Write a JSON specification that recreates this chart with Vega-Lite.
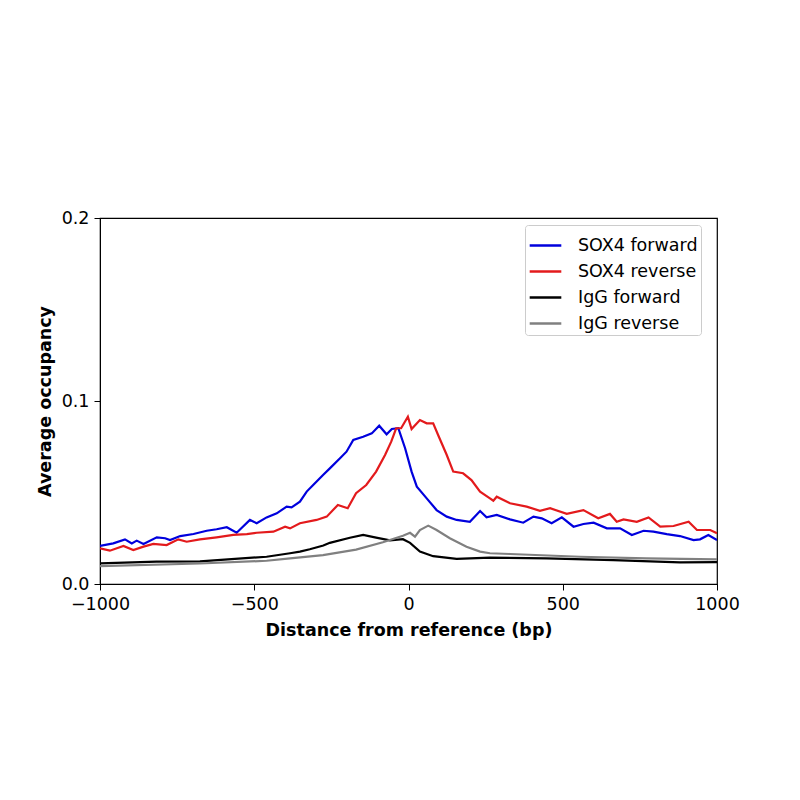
{
  "$schema": "https://vega.github.io/schema/vega-lite/v6.json",
  "description": "Average occupancy around reference, SOX4 vs IgG",
  "width": 617,
  "height": 366,
  "autosize": {"type": "none"},
  "padding": {"left": 100, "top": 218, "right": 83, "bottom": 216},
  "background": "white",
  "config": {
    "font": "DejaVu Sans",
    "view": {"stroke": "black", "strokeWidth": 1.2},
    "axis": {
      "grid": false,
      "domainColor": "black",
      "tickColor": "black",
      "tickSize": 6,
      "labelColor": "black",
      "titleColor": "black",
      "labelFontSize": 17.5,
      "titleFontSize": 17.5,
      "titleFontWeight": "bold",
      "labelFont": "DejaVu Sans",
      "titleFont": "DejaVu Sans"
    }
  },
  "data": {
    "values": [
      {"series": "SOX4 forward", "bp": -1000, "occ": 0.0208},
      {"series": "SOX4 forward", "bp": -957, "occ": 0.0222},
      {"series": "SOX4 forward", "bp": -919, "occ": 0.0244},
      {"series": "SOX4 forward", "bp": -897, "occ": 0.0222},
      {"series": "SOX4 forward", "bp": -881, "occ": 0.0237},
      {"series": "SOX4 forward", "bp": -859, "occ": 0.0219},
      {"series": "SOX4 forward", "bp": -816, "occ": 0.0255},
      {"series": "SOX4 forward", "bp": -789, "occ": 0.025},
      {"series": "SOX4 forward", "bp": -773, "occ": 0.024},
      {"series": "SOX4 forward", "bp": -740, "occ": 0.0262},
      {"series": "SOX4 forward", "bp": -697, "occ": 0.0273},
      {"series": "SOX4 forward", "bp": -654, "occ": 0.0291},
      {"series": "SOX4 forward", "bp": -622, "occ": 0.0299},
      {"series": "SOX4 forward", "bp": -589, "occ": 0.031},
      {"series": "SOX4 forward", "bp": -557, "occ": 0.028},
      {"series": "SOX4 forward", "bp": -514, "occ": 0.035},
      {"series": "SOX4 forward", "bp": -492, "occ": 0.0332},
      {"series": "SOX4 forward", "bp": -460, "occ": 0.0364},
      {"series": "SOX4 forward", "bp": -427, "occ": 0.0386},
      {"series": "SOX4 forward", "bp": -395, "occ": 0.0423},
      {"series": "SOX4 forward", "bp": -379, "occ": 0.0419},
      {"series": "SOX4 forward", "bp": -352, "occ": 0.045},
      {"series": "SOX4 forward", "bp": -330, "occ": 0.0505},
      {"series": "SOX4 forward", "bp": -309, "occ": 0.0541},
      {"series": "SOX4 forward", "bp": -277, "occ": 0.0596},
      {"series": "SOX4 forward", "bp": -255, "occ": 0.0632},
      {"series": "SOX4 forward", "bp": -222, "occ": 0.0687},
      {"series": "SOX4 forward", "bp": -201, "occ": 0.0723},
      {"series": "SOX4 forward", "bp": -179, "occ": 0.0787},
      {"series": "SOX4 forward", "bp": -147, "occ": 0.0805},
      {"series": "SOX4 forward", "bp": -119, "occ": 0.0823},
      {"series": "SOX4 forward", "bp": -95, "occ": 0.0865},
      {"series": "SOX4 forward", "bp": -71, "occ": 0.0818},
      {"series": "SOX4 forward", "bp": -54, "occ": 0.0847},
      {"series": "SOX4 forward", "bp": -33, "occ": 0.0851},
      {"series": "SOX4 forward", "bp": -11, "occ": 0.0742},
      {"series": "SOX4 forward", "bp": 10, "occ": 0.0614},
      {"series": "SOX4 forward", "bp": 27, "occ": 0.0532},
      {"series": "SOX4 forward", "bp": 59, "occ": 0.0468},
      {"series": "SOX4 forward", "bp": 91, "occ": 0.0404},
      {"series": "SOX4 forward", "bp": 124, "occ": 0.0368},
      {"series": "SOX4 forward", "bp": 156, "occ": 0.035},
      {"series": "SOX4 forward", "bp": 199, "occ": 0.034},
      {"series": "SOX4 forward", "bp": 232, "occ": 0.0399},
      {"series": "SOX4 forward", "bp": 253, "occ": 0.0364},
      {"series": "SOX4 forward", "bp": 286, "occ": 0.0377},
      {"series": "SOX4 forward", "bp": 329, "occ": 0.0353},
      {"series": "SOX4 forward", "bp": 372, "occ": 0.0335},
      {"series": "SOX4 forward", "bp": 405, "occ": 0.0368},
      {"series": "SOX4 forward", "bp": 432, "occ": 0.0359},
      {"series": "SOX4 forward", "bp": 464, "occ": 0.0332},
      {"series": "SOX4 forward", "bp": 497, "occ": 0.0364},
      {"series": "SOX4 forward", "bp": 535, "occ": 0.0313},
      {"series": "SOX4 forward", "bp": 567, "occ": 0.0328},
      {"series": "SOX4 forward", "bp": 600, "occ": 0.0335},
      {"series": "SOX4 forward", "bp": 643, "occ": 0.0304},
      {"series": "SOX4 forward", "bp": 686, "occ": 0.0304},
      {"series": "SOX4 forward", "bp": 724, "occ": 0.0268},
      {"series": "SOX4 forward", "bp": 762, "occ": 0.0291},
      {"series": "SOX4 forward", "bp": 794, "occ": 0.0286},
      {"series": "SOX4 forward", "bp": 837, "occ": 0.0273},
      {"series": "SOX4 forward", "bp": 880, "occ": 0.0262},
      {"series": "SOX4 forward", "bp": 924, "occ": 0.024},
      {"series": "SOX4 forward", "bp": 945, "occ": 0.0244},
      {"series": "SOX4 forward", "bp": 972, "occ": 0.0268},
      {"series": "SOX4 forward", "bp": 1000, "occ": 0.024},

      {"series": "SOX4 reverse", "bp": -1000, "occ": 0.0195},
      {"series": "SOX4 reverse", "bp": -968, "occ": 0.0182},
      {"series": "SOX4 reverse", "bp": -924, "occ": 0.0208},
      {"series": "SOX4 reverse", "bp": -892, "occ": 0.0186},
      {"series": "SOX4 reverse", "bp": -859, "occ": 0.0204},
      {"series": "SOX4 reverse", "bp": -827, "occ": 0.0219},
      {"series": "SOX4 reverse", "bp": -784, "occ": 0.0213},
      {"series": "SOX4 reverse", "bp": -746, "occ": 0.0244},
      {"series": "SOX4 reverse", "bp": -719, "occ": 0.0231},
      {"series": "SOX4 reverse", "bp": -676, "occ": 0.0244},
      {"series": "SOX4 reverse", "bp": -622, "occ": 0.0255},
      {"series": "SOX4 reverse", "bp": -568, "occ": 0.0268},
      {"series": "SOX4 reverse", "bp": -524, "occ": 0.0273},
      {"series": "SOX4 reverse", "bp": -492, "occ": 0.028},
      {"series": "SOX4 reverse", "bp": -438, "occ": 0.0286},
      {"series": "SOX4 reverse", "bp": -400, "occ": 0.0313},
      {"series": "SOX4 reverse", "bp": -384, "occ": 0.0304},
      {"series": "SOX4 reverse", "bp": -352, "occ": 0.0332},
      {"series": "SOX4 reverse", "bp": -298, "occ": 0.035},
      {"series": "SOX4 reverse", "bp": -265, "occ": 0.0368},
      {"series": "SOX4 reverse", "bp": -229, "occ": 0.0432},
      {"series": "SOX4 reverse", "bp": -197, "occ": 0.0414},
      {"series": "SOX4 reverse", "bp": -170, "occ": 0.0496},
      {"series": "SOX4 reverse", "bp": -137, "occ": 0.0541},
      {"series": "SOX4 reverse", "bp": -105, "occ": 0.0614},
      {"series": "SOX4 reverse", "bp": -76, "occ": 0.0705},
      {"series": "SOX4 reverse", "bp": -56, "occ": 0.0778},
      {"series": "SOX4 reverse", "bp": -40, "occ": 0.0851},
      {"series": "SOX4 reverse", "bp": -24, "occ": 0.0851},
      {"series": "SOX4 reverse", "bp": -2, "occ": 0.0914},
      {"series": "SOX4 reverse", "bp": 10, "occ": 0.0847},
      {"series": "SOX4 reverse", "bp": 37, "occ": 0.0896},
      {"series": "SOX4 reverse", "bp": 59, "occ": 0.0878},
      {"series": "SOX4 reverse", "bp": 80, "occ": 0.0878},
      {"series": "SOX4 reverse", "bp": 96, "occ": 0.0814},
      {"series": "SOX4 reverse", "bp": 124, "occ": 0.0705},
      {"series": "SOX4 reverse", "bp": 145, "occ": 0.0614},
      {"series": "SOX4 reverse", "bp": 177, "occ": 0.0605},
      {"series": "SOX4 reverse", "bp": 204, "occ": 0.0568},
      {"series": "SOX4 reverse", "bp": 232, "occ": 0.0504},
      {"series": "SOX4 reverse", "bp": 264, "occ": 0.0468},
      {"series": "SOX4 reverse", "bp": 275, "occ": 0.0455},
      {"series": "SOX4 reverse", "bp": 286, "occ": 0.0477},
      {"series": "SOX4 reverse", "bp": 329, "occ": 0.0441},
      {"series": "SOX4 reverse", "bp": 383, "occ": 0.0423},
      {"series": "SOX4 reverse", "bp": 426, "occ": 0.04},
      {"series": "SOX4 reverse", "bp": 459, "occ": 0.0414},
      {"series": "SOX4 reverse", "bp": 513, "occ": 0.0383},
      {"series": "SOX4 reverse", "bp": 567, "occ": 0.0404},
      {"series": "SOX4 reverse", "bp": 615, "occ": 0.0359},
      {"series": "SOX4 reverse", "bp": 653, "occ": 0.0383},
      {"series": "SOX4 reverse", "bp": 675, "occ": 0.034},
      {"series": "SOX4 reverse", "bp": 697, "occ": 0.0353},
      {"series": "SOX4 reverse", "bp": 740, "occ": 0.034},
      {"series": "SOX4 reverse", "bp": 778, "occ": 0.0364},
      {"series": "SOX4 reverse", "bp": 816, "occ": 0.0313},
      {"series": "SOX4 reverse", "bp": 859, "occ": 0.0317},
      {"series": "SOX4 reverse", "bp": 908, "occ": 0.034},
      {"series": "SOX4 reverse", "bp": 935, "occ": 0.0295},
      {"series": "SOX4 reverse", "bp": 978, "occ": 0.0295},
      {"series": "SOX4 reverse", "bp": 1000, "occ": 0.0277},

      {"series": "IgG forward", "bp": -1000, "occ": 0.0113},
      {"series": "IgG forward", "bp": -817, "occ": 0.0122},
      {"series": "IgG forward", "bp": -676, "occ": 0.0124},
      {"series": "IgG forward", "bp": -460, "occ": 0.0149},
      {"series": "IgG forward", "bp": -384, "occ": 0.0168},
      {"series": "IgG forward", "bp": -352, "occ": 0.0177},
      {"series": "IgG forward", "bp": -320, "occ": 0.019},
      {"series": "IgG forward", "bp": -276, "occ": 0.021},
      {"series": "IgG forward", "bp": -255, "occ": 0.0225},
      {"series": "IgG forward", "bp": -190, "occ": 0.0253},
      {"series": "IgG forward", "bp": -147, "occ": 0.0268},
      {"series": "IgG forward", "bp": -105, "occ": 0.0253},
      {"series": "IgG forward", "bp": -60, "occ": 0.0238},
      {"series": "IgG forward", "bp": -18, "occ": 0.0245},
      {"series": "IgG forward", "bp": 5, "occ": 0.0225},
      {"series": "IgG forward", "bp": 37, "occ": 0.0177},
      {"series": "IgG forward", "bp": 80, "occ": 0.0152},
      {"series": "IgG forward", "bp": 156, "occ": 0.0137},
      {"series": "IgG forward", "bp": 264, "occ": 0.0144},
      {"series": "IgG forward", "bp": 448, "occ": 0.014},
      {"series": "IgG forward", "bp": 664, "occ": 0.0131},
      {"series": "IgG forward", "bp": 880, "occ": 0.0118},
      {"series": "IgG forward", "bp": 1000, "occ": 0.012},

      {"series": "IgG reverse", "bp": -1000, "occ": 0.0098},
      {"series": "IgG reverse", "bp": -676, "occ": 0.0112},
      {"series": "IgG reverse", "bp": -460, "occ": 0.0127},
      {"series": "IgG reverse", "bp": -384, "occ": 0.014},
      {"series": "IgG reverse", "bp": -277, "occ": 0.0158},
      {"series": "IgG reverse", "bp": -170, "occ": 0.0188},
      {"series": "IgG reverse", "bp": -83, "occ": 0.0228},
      {"series": "IgG reverse", "bp": -18, "occ": 0.0264},
      {"series": "IgG reverse", "bp": 5, "occ": 0.028},
      {"series": "IgG reverse", "bp": 21, "occ": 0.0259},
      {"series": "IgG reverse", "bp": 37, "occ": 0.0295},
      {"series": "IgG reverse", "bp": 64, "occ": 0.0319},
      {"series": "IgG reverse", "bp": 91, "occ": 0.0295},
      {"series": "IgG reverse", "bp": 134, "occ": 0.025},
      {"series": "IgG reverse", "bp": 188, "occ": 0.0204},
      {"series": "IgG reverse", "bp": 232, "occ": 0.0177},
      {"series": "IgG reverse", "bp": 264, "occ": 0.0168},
      {"series": "IgG reverse", "bp": 329, "occ": 0.0164},
      {"series": "IgG reverse", "bp": 556, "occ": 0.0149},
      {"series": "IgG reverse", "bp": 772, "occ": 0.014},
      {"series": "IgG reverse", "bp": 1000, "occ": 0.0135}
    ]
  },
  "mark": {"type": "line", "strokeWidth": 2.2, "clip": true},
  "encoding": {
    "x": {
      "field": "bp",
      "type": "quantitative",
      "title": "Distance from reference (bp)",
      "scale": {"domain": [-1000, 1000], "nice": false, "zero": false},
      "axis": {"values": [-1000, -500, 0, 500, 1000], "format": "d", "labelPadding": 5, "titlePadding": 9, "labelFlush": false}
    },
    "y": {
      "field": "occ",
      "type": "quantitative",
      "title": "Average occupancy",
      "scale": {"domain": [0, 0.2], "nice": false},
      "axis": {"values": [0, 0.1, 0.2], "format": ".1f", "labelPadding": 5, "titlePadding": 7, "labelFlush": false}
    },
    "color": {
      "field": "series",
      "type": "nominal",
      "scale": {
        "domain": ["SOX4 forward", "SOX4 reverse", "IgG forward", "IgG reverse"],
        "range": ["#0000dd", "#e31a1c", "#000000", "#808080"]
      },
      "legend": {
        "title": null,
        "orient": "none",
        "legendX": 425,
        "legendY": 7,
        "symbolType": "stroke",
        "symbolSize": 1000,
        "symbolStrokeWidth": 2.5,
        "labelFontSize": 17.5,
        "labelFont": "DejaVu Sans",
        "labelColor": "black",
        "labelOffset": 15,
        "rowPadding": 0,
        "padding": 3,
        "strokeColor": "#cccccc",
        "fillColor": "white",
        "cornerRadius": 3
      }
    },
    "order": {"field": "bp", "type": "quantitative"}
  }
}
